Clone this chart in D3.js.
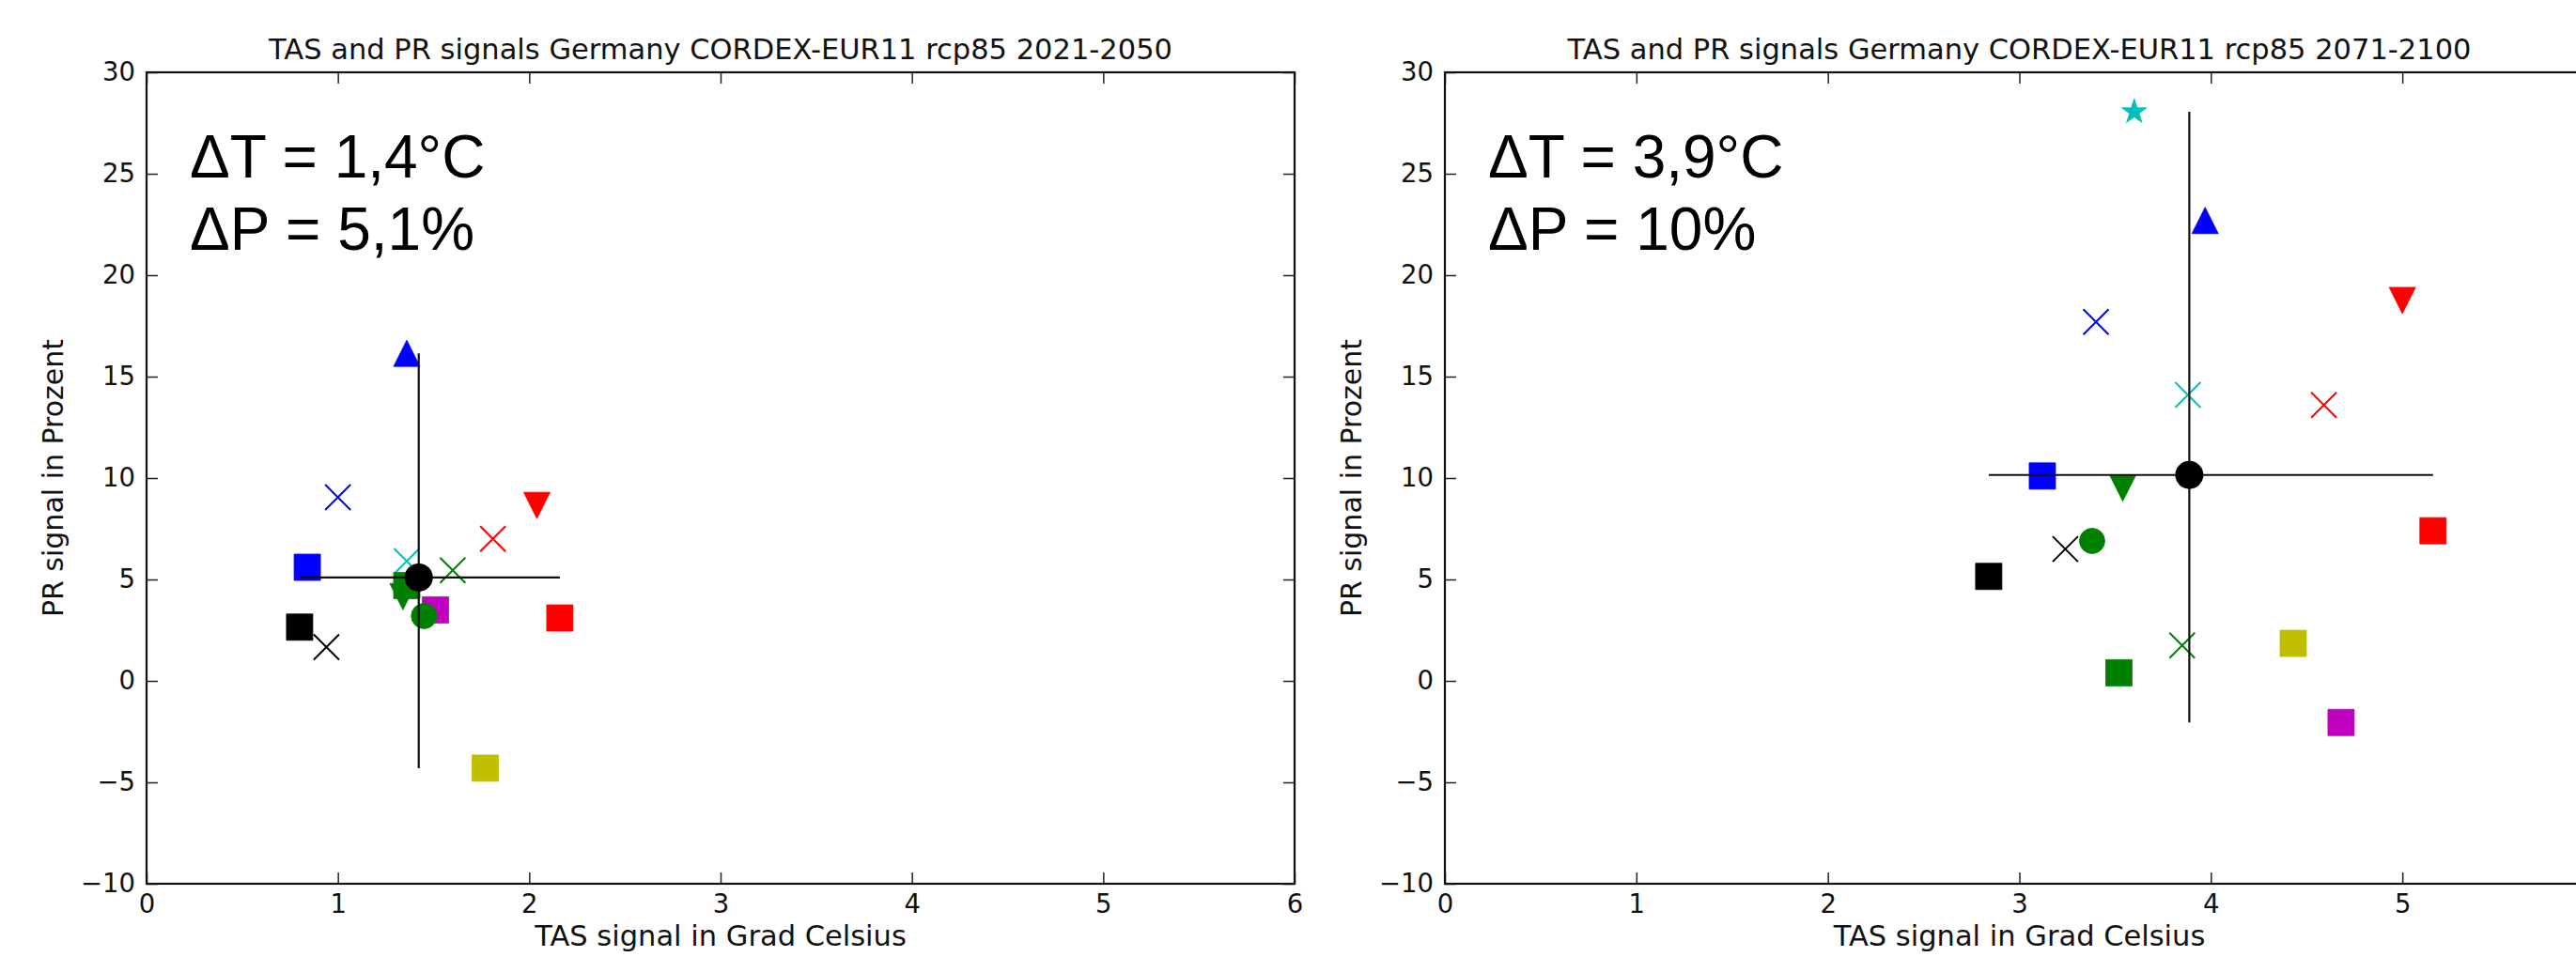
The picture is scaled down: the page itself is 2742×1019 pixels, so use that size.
<!DOCTYPE html>
<html>
<head>
<meta charset="utf-8">
<script src="https://cdn.jsdelivr.net/npm/d3@7"></script>
<style>
  html, body { margin: 0; padding: 0; background: #ffffff; }
  svg { display: block; }
</style>
</head>
<body>
<script>
// ---------------- DATA ----------------
// 16 ensemble members (CORDEX-EUR11 rcp85), marker shape + colour per member
const memberShapes = ["triangle-up", "x", "square", "triangle-down", "x", "square",
                      "star", "x", "square", "triangle-down", "x", "square",
                      "circle", "square", "square", "x"];
const memberColors = ["#0000ff", "#0000ff", "#0000ff", "#ff0000", "#ff0000", "#ff0000",
                      "#00bfbf", "#00bfbf", "#008000", "#008000", "#008000", "#bf00bf",
                      "#008000", "#bfbf00", "#000000", "#000000"];

// Period 2021-2050: temperature signal (°C) and precipitation signal (%)
const tas2021 = [1.36, 1.00, 0.84, 2.04, 1.81, 2.16, 1.42, 1.36, 1.36, 1.34, 1.60, 1.51, 1.45, 1.77, 0.80, 0.94];
const pr2021  = [16.15, 9.05, 5.60, 8.65, 7.00, 3.10, 5.10, 5.90, 4.70, 4.15, 5.45, 3.50, 3.20, -4.30, 2.65, 1.67];

// Period 2071-2100
const tas2071 = [3.97, 3.40, 3.12, 5.00, 4.59, 5.16, 3.60, 3.88, 3.52, 3.54, 3.85, 4.68, 3.38, 4.43, 2.84, 3.24];
const pr2071  = [22.70, 17.70, 10.10, 18.75, 13.60, 7.40, 28.05, 14.10, 0.40, 9.50, 1.75, -2.05, 6.90, 1.85, 5.15, 6.50];

const xTicks = [0, 1, 2, 3, 4, 5, 6];
const yTicks = [-10, -5, 0, 5, 10, 15, 20, 25, 30];
const xDomain = [0, 6];
const yDomain = [-10, 30];

const panelTitles = ["TAS and PR signals Germany CORDEX-EUR11 rcp85 2021-2050",
                     "TAS and PR signals Germany CORDEX-EUR11 rcp85 2071-2100"];
const panelNotes = [["\u0394T = 1,4°C", "\u0394P = 5,1%"],
                    ["\u0394T = 3,9°C", "\u0394P = 10%"]];
const xLabelText = "TAS signal in Grad Celsius";
const yLabelText = "PR signal in Prozent";

// ---------------- LAYOUT ----------------
const W = 2742, H = 1019;
const panels = [
  { left: 156,  right: 1378, tas: tas2021, pr: pr2021 },
  { left: 1538, right: 2761, tas: tas2071, pr: pr2071 }
];
const plotTop = 77, plotBottom = 941;
const textColor = "#111111";
const tickFont = "DejaVu Sans";

const svg = d3.select("body").append("svg")
  .attr("width", W).attr("height", H)
  .attr("viewBox", `0 0 ${W} ${H}`);

svg.append("rect").attr("width", W).attr("height", H).attr("fill", "#ffffff");

function markerPath(shape, ms) {
  const h = ms / 2;
  switch (shape) {
    case "square": return `M${-h},${-h}H${h}V${h}H${-h}Z`;
    case "triangle-up": return `M0,${-h}L${h},${h}L${-h},${h}Z`;
    case "triangle-down": return `M0,${h}L${h},${-h}L${-h},${-h}Z`;
    case "x": return `M${-h},${-h}L${h},${h}M${h},${-h}L${-h},${h}`;
    case "star": {
      const R = h, r = h * 0.381966;
      let d = "";
      for (let i = 0; i < 10; i++) {
        const rad = (i % 2 === 0) ? R : r;
        const a = -Math.PI / 2 + i * Math.PI / 5;
        d += (i === 0 ? "M" : "L") + (rad * Math.cos(a)).toFixed(2) + "," + (rad * Math.sin(a)).toFixed(2);
      }
      return d + "Z";
    }
    case "circle": return d3.arc()({ innerRadius: 0, outerRadius: h, startAngle: 0, endAngle: 2 * Math.PI });
  }
}
const markerSize = { "square": 28, "triangle-up": 28, "triangle-down": 28, "x": 27, "star": 28, "circle": 27 };

panels.forEach((p, pi) => {
  const x = d3.scaleLinear().domain(xDomain).range([p.left, p.right]);
  const y = d3.scaleLinear().domain(yDomain).range([plotBottom, plotTop]);
  const g = svg.append("g");

  // axes with inward ticks on all four sides
  const fmt = d => d < 0 ? "\u2212" + Math.abs(d) : String(d);
  // labels falling outside the picture (the right panel is cropped) are not shown
  const xFmt = d => (x(d) > W - 12 ? "" : fmt(d));
  const bottom = g.append("g").attr("transform", `translate(0,${plotBottom})`)
    .call(d3.axisBottom(x).tickValues(xTicks).tickFormat(xFmt).tickSizeInner(-12).tickSizeOuter(0).tickPadding(11));
  const leftAx = g.append("g").attr("transform", `translate(${p.left},0)`)
    .call(d3.axisLeft(y).tickValues(yTicks).tickFormat(fmt).tickSizeInner(-12).tickSizeOuter(0).tickPadding(12));
  const topAx = g.append("g").attr("transform", `translate(0,${plotTop})`)
    .call(d3.axisTop(x).tickValues(xTicks).tickFormat("").tickSizeInner(-12).tickSizeOuter(0));
  const rightAx = g.append("g").attr("transform", `translate(${p.right},0)`)
    .call(d3.axisRight(y).tickValues(yTicks).tickFormat("").tickSizeInner(-12).tickSizeOuter(0));
  [bottom, leftAx, topAx, rightAx].forEach(a => {
    a.select(".domain").remove();
    a.selectAll(".tick line").attr("stroke", "#222").attr("stroke-width", 1.5);
    a.selectAll(".tick text").attr("fill", textColor).attr("font-family", tickFont).attr("font-size", 27.5);
  });

  // frame
  g.append("rect")
    .attr("x", p.left).attr("y", plotTop)
    .attr("width", p.right - p.left).attr("height", plotBottom - plotTop)
    .attr("fill", "none").attr("stroke", "#111").attr("stroke-width", 2.2);

  // title
  g.append("text")
    .attr("x", (p.left + p.right) / 2).attr("y", 63)
    .attr("text-anchor", "middle")
    .attr("font-family", tickFont).attr("font-size", 30.5).attr("fill", textColor)
    .text(panelTitles[pi]);

  // axis labels
  g.append("text")
    .attr("x", (p.left + p.right) / 2).attr("y", 1007)
    .attr("text-anchor", "middle")
    .attr("font-family", tickFont).attr("font-size", 30.5).attr("fill", textColor)
    .text(xLabelText);
  g.append("text")
    .attr("transform", `translate(${p.left - 100},${(plotTop + plotBottom) / 2}) rotate(-90)`)
    .attr("text-anchor", "middle").attr("dominant-baseline", "central")
    .attr("font-family", tickFont).attr("font-size", 30).attr("fill", textColor)
    .text(yLabelText);

  // annotation
  const note = g.append("text")
    .attr("font-family", "Liberation Sans, Arial, sans-serif").attr("font-size", 64).attr("fill", "#000");
  panelNotes[pi].forEach((t, i) => {
    note.append("tspan").attr("x", p.left + 46).attr("y", 189 + i * 77).text(t);
  });

  // members
  const members = p.tas.map((t, i) => ({ t, pr: p.pr[i], shape: memberShapes[i], color: memberColors[i] }));
  g.append("g").selectAll("path").data(members).join("path")
    .attr("transform", d => `translate(${x(d.t)},${y(d.pr)})`)
    .attr("d", d => markerPath(d.shape, markerSize[d.shape]))
    .attr("fill", d => d.shape === "x" ? "none" : d.color)
    .attr("stroke", d => d.color)
    .attr("stroke-width", d => d.shape === "x" ? 2 : 0.8);

  // ensemble mean with min-max cross
  const mt = d3.mean(p.tas), mp = d3.mean(p.pr);
  const [tMin, tMax] = d3.extent(p.tas);
  const [pMin, pMax] = d3.extent(p.pr);
  g.append("line").attr("x1", x(tMin)).attr("x2", x(tMax)).attr("y1", y(mp)).attr("y2", y(mp))
    .attr("stroke", "#111").attr("stroke-width", 2.2);
  g.append("line").attr("x1", x(mt)).attr("x2", x(mt)).attr("y1", y(pMin)).attr("y2", y(pMax))
    .attr("stroke", "#111").attr("stroke-width", 2.2);
  g.append("circle").attr("cx", x(mt)).attr("cy", y(mp)).attr("r", 15).attr("fill", "#000");
});
</script>
</body>
</html>
